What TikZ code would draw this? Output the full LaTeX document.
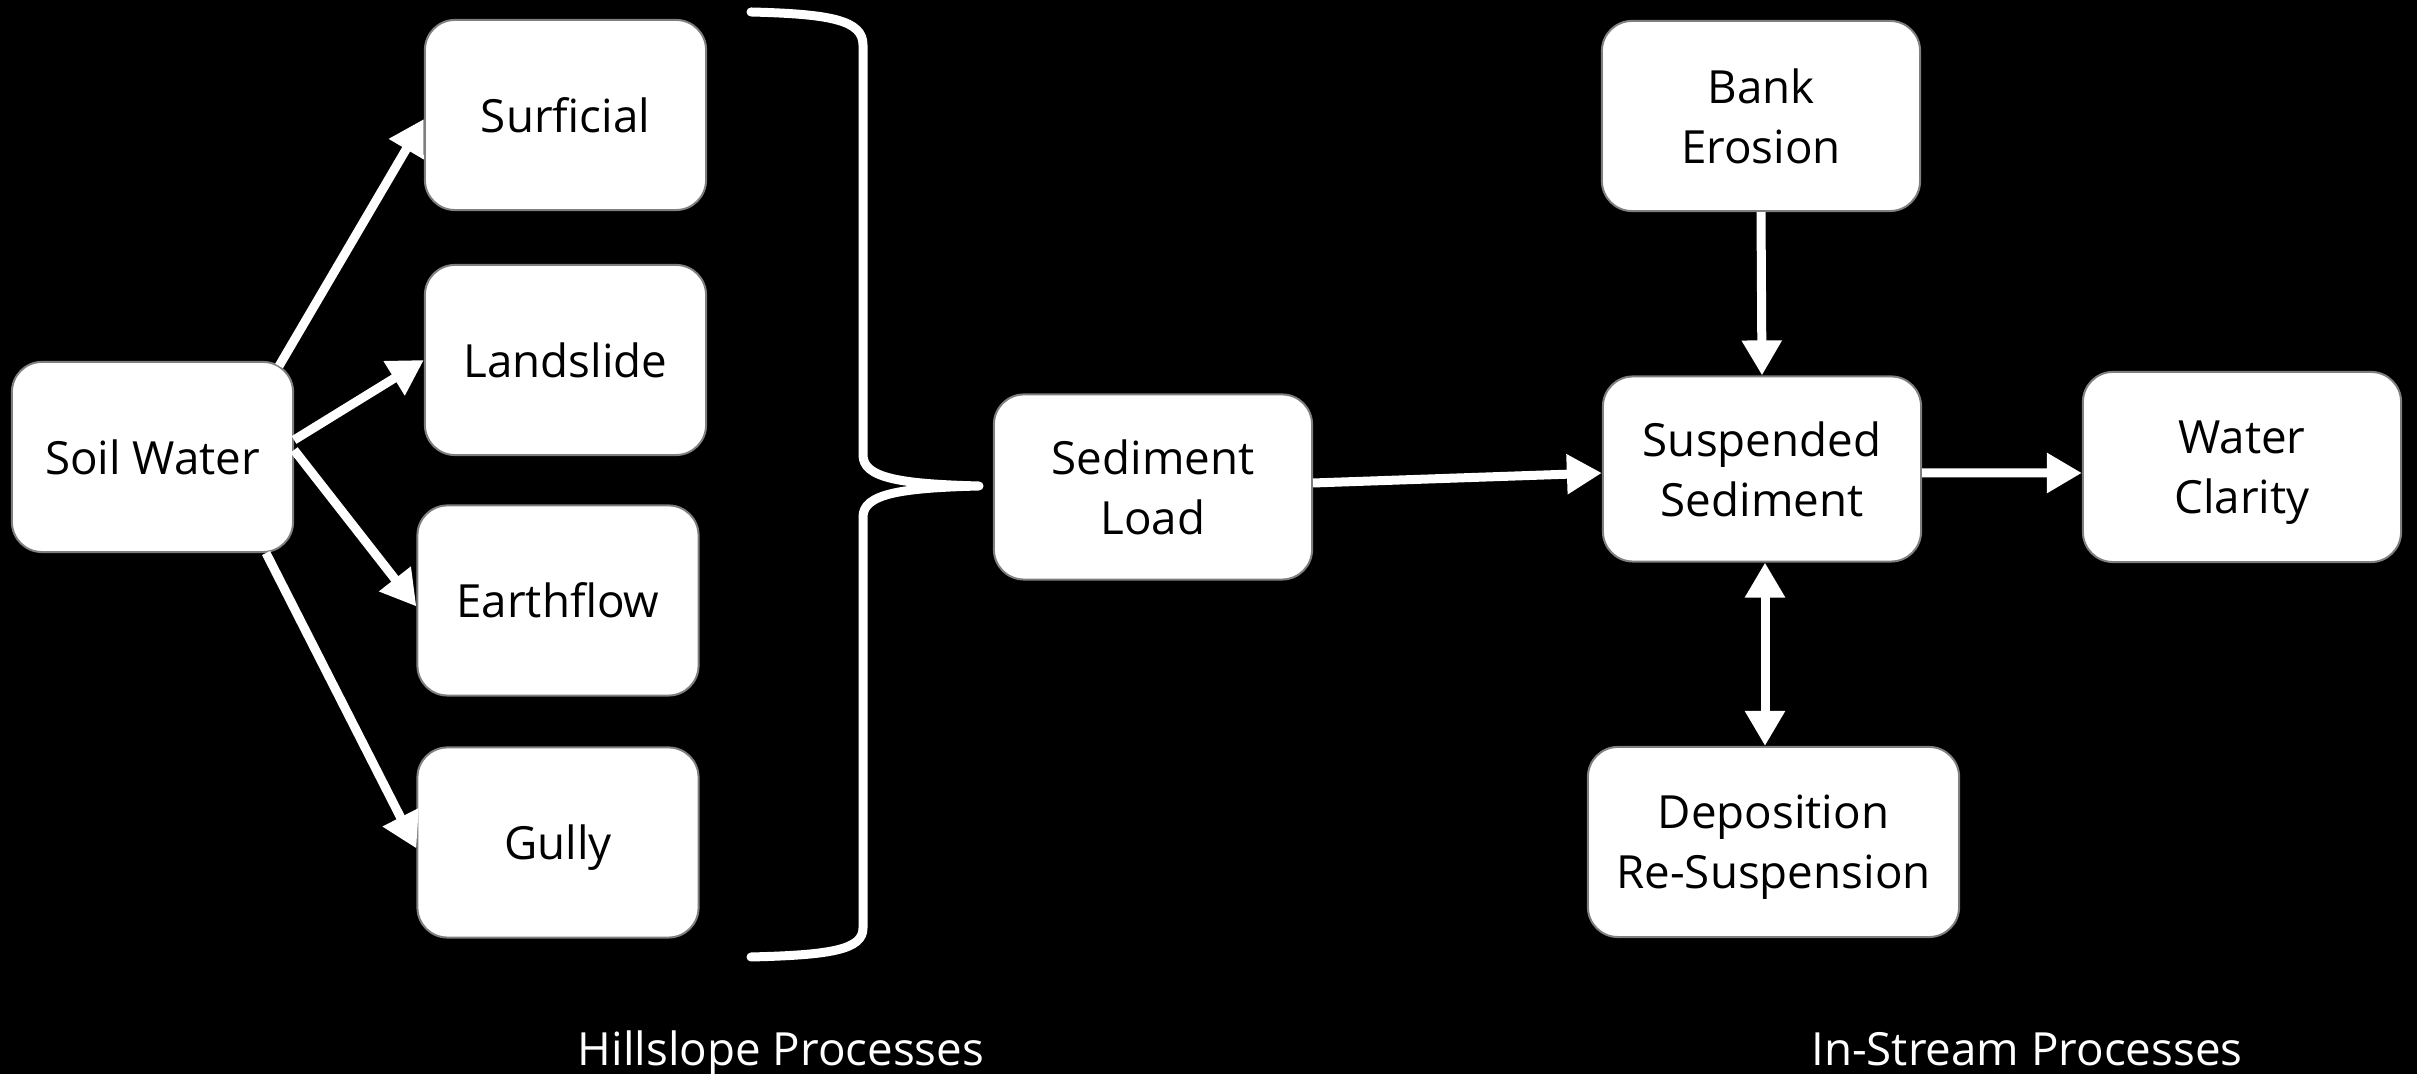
\documentclass[tikz,border=0pt]{standalone}
\usepackage{amsmath}
\usepackage{fontspec}
\setmainfont{Open Sans}
\usetikzlibrary{arrows.meta}
\definecolor{boxgray}{HTML}{7F7F7F}
\begin{document}
\begin{tikzpicture}[x=0.01cm,y=-0.01cm,
  box/.style={draw=boxgray, line width=0.02cm, fill=white, rounded corners=0.3cm,
    text=black, align=center, inner sep=0pt, minimum height=1.9cm,
    font=\fontsize{13}{17}\selectfont},
  narrowbox/.style={box, minimum width=2.81cm},
  widebox/.style={box, minimum width=3.18cm},
  flow/.style={draw=white, line width=0.09cm,
    -{Triangle[length=0.35cm,width=0.38cm]}},
  both/.style={flow, {Triangle[length=0.35cm,width=0.38cm]}-{Triangle[length=0.35cm,width=0.38cm]}},
  caption/.style={text=white, anchor=base, font=\fontsize{13}{17}\selectfont},
]
% background and page size
\fill[black] (0,0) rectangle (2417,1074);
\useasboundingbox (0,0) rectangle (2417,1074);

% hillslope sources
\node[narrowbox] (sw)   at (152.5,457)  {Soil Water};
\node[narrowbox] (surf) at (565.5,115)  {Surficial};
\node[narrowbox] (land) at (565.5,360)  {Landslide};
\node[narrowbox] (earth) at (558,600.5) {Earthflow};
\node[narrowbox] (gully) at (558,842.5) {\smash[b]{Gully}};

% in-stream part
\node[widebox, minimum height=1.85cm] (load) at (1153,487) {Sediment\\Load};
\node[widebox] (bank) at (1761,116) {Bank\\Erosion};
\node[widebox, minimum height=1.85cm] (susp) at (1762,469) {Suspended\\Sediment};
\node[widebox] (clar) at (2242,467) {Water\\\smash[b]{Clarity}};
\node[box, minimum width=3.71cm] (dep) at (1773.5,842) {Deposition\\\smash[b]{Re-Suspension}};

% soil water to the hillslope processes
\draw[flow] ([xshift=-0.15cm,yshift=-0.05cm]sw.north east) -- ([yshift=-0.04cm]surf.west);
\draw[flow] ([yshift=0.17cm]sw.east) -- (land.west);
\draw[flow] ([yshift=0.07cm]sw.east) -- ([yshift=-0.06cm]earth.west);
\draw[flow] ([xshift=-0.28cm]sw.south east) -- ([yshift=-0.06cm]gully.west);

% brace gathering the hillslope processes
\coordinate (btop) at (751,12);
\coordinate (bbot) at (751,957);
\coordinate (btip) at (979,486);
\draw[white, line width=0.09cm, line cap=round, line join=round]
  (btop) .. controls (830,14) and (863,20) .. (863,45) -- (863,455)
  .. controls (863,478) and (900,484) .. (btip)
  .. controls (900,488) and (863,494) .. (863,517) -- (863,928)
  .. controls (863,950) and (830,955) .. (bbot);

% sediment routing
\draw[flow] ([yshift=0.04cm]load.east) -- ([yshift=-0.04cm]susp.west);
\draw[flow] (bank.south) -- (susp.north);
\draw[flow] ([yshift=-0.04cm]susp.east) -- ([yshift=-0.06cm]clar.west);
\draw[both] ([xshift=0.03cm]susp.south) -- ([xshift=0.03cm]susp.south |- dep.north);

% group captions
\node[caption] (hill) at (781,1066) {Hillslope Processes};
\node[caption] (stream) at (2027,1066) {In-Stream Processes};
\end{tikzpicture}
\end{document}
